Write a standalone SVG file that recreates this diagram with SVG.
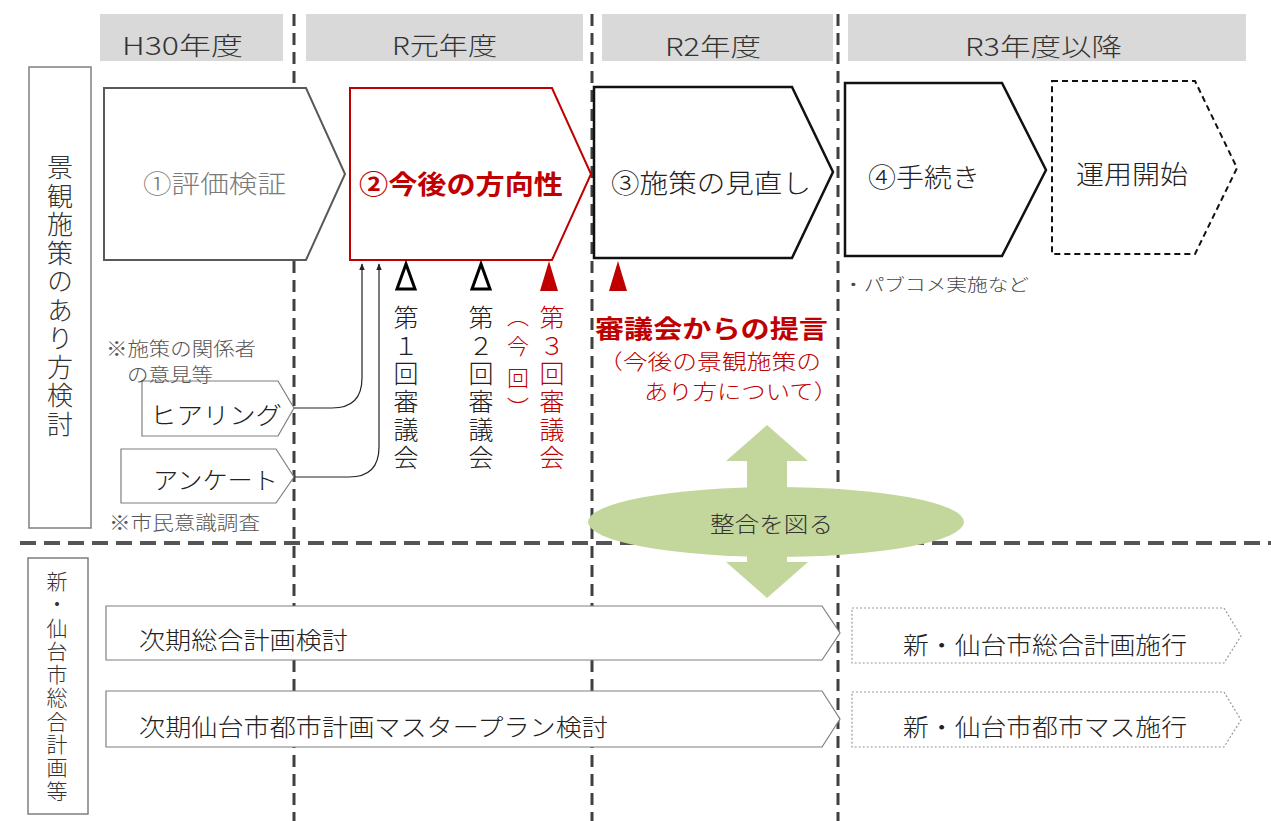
<svg xmlns="http://www.w3.org/2000/svg" width="1271" height="821" viewBox="0 0 1271 821">
<defs>
<style>
text{font-family:"Noto Sans CJK JP","Noto Sans",sans-serif;dominant-baseline:central;font-weight:300}
.hdr{fill:#d9d9d9}
.ht{font-size:25px;fill:#333}
.vl{stroke:#404040;stroke-width:3;stroke-dasharray:12 7;fill:none}
.hl{stroke:#555;stroke-width:4;stroke-dasharray:16 8;fill:none}
.lbl{fill:#fff;stroke:#7f7f7f;stroke-width:1.5}
.vt{writing-mode:vertical-rl;text-anchor:middle}
.sub{fill:#fff;stroke:#7f7f7f;stroke-width:1.2}
.dot{fill:#fff;stroke:#999;stroke-width:1.2;stroke-dasharray:2 2}
.red{fill:#c00000}
.note{font-size:19px;fill:#555}
.green{fill:#c3d69b}
</style>
<marker id="ah" viewBox="0 0 10 10" refX="9" refY="5" markerWidth="6" markerHeight="6" orient="auto"><path d="M0,1 L10,5 L0,9 z" fill="#222"/></marker>
</defs>
<rect width="1271" height="821" fill="#fff"/>

<g id="grid">
<line class="vl" x1="294" y1="14" x2="294" y2="821"/>
<line class="vl" x1="592" y1="14" x2="592" y2="821"/>
<line class="vl" x1="838" y1="14" x2="838" y2="821"/>
<line class="hl" x1="20" y1="543" x2="1271" y2="543"/>
</g>

<g id="headers">
<rect class="hdr" x="100" y="14" width="183" height="47"/>
<text class="ht" x="122" y="44" textLength="121" lengthAdjust="spacingAndGlyphs">H30年度</text>
<rect class="hdr" x="306" y="14" width="277" height="47"/>
<text class="ht" x="392" y="44" textLength="105" lengthAdjust="spacingAndGlyphs">R元年度</text>
<rect class="hdr" x="602" y="14" width="231" height="47"/>
<text class="ht" x="665" y="45" textLength="96" lengthAdjust="spacingAndGlyphs">R2年度</text>
<rect class="hdr" x="848" y="14" width="398" height="47"/>
<text class="ht" x="965" y="45" textLength="157" lengthAdjust="spacingAndGlyphs">R3年度以降</text>
</g>

<g id="label-top">
<rect class="lbl" x="29" y="67" width="62" height="461"/>
<text class="vt" x="60" y="297" style="font-size:26px;letter-spacing:2.5px;fill:#333">景観施策のあり方検討</text>
</g>
<g id="label-bottom">
<rect class="lbl" x="28" y="558" width="60" height="256"/>
<text class="vt" x="57" y="687" style="font-size:21px;letter-spacing:2.3px;fill:#333">新・仙台市総合計画等</text>
</g>

<g id="step1">
<polygon points="104,88 306,88 345,174 306,260 104,260" fill="#fff" stroke="#595959" stroke-width="2"/>
<text x="143" y="182" style="font-size:25px;fill:#7a7a7a" textLength="143" lengthAdjust="spacingAndGlyphs">①評価検証</text>
</g>
<g id="step2">
<polygon points="350,88 552,88 591,174 552,260 350,260" fill="#fff" stroke="#c00000" stroke-width="2"/>
<text class="red" x="359" y="182" style="font-size:26px;font-weight:bold" textLength="204" lengthAdjust="spacingAndGlyphs">②今後の方向性</text>
</g>
<g id="step3">
<polygon points="594,87 792,87 833,172 792,258 594,258" fill="#fff" stroke="#111" stroke-width="2.5"/>
<text x="611" y="181" style="font-size:26px;fill:#222" textLength="200" lengthAdjust="spacingAndGlyphs">③施策の見直し</text>
</g>
<g id="step4">
<polygon points="845,83 1002,83 1046,170 1002,256 845,256" fill="#fff" stroke="#111" stroke-width="2.5"/>
<text x="868" y="175" style="font-size:26px;fill:#222" textLength="112" lengthAdjust="spacingAndGlyphs">④手続き</text>
<text x="843" y="283" style="font-size:17px;fill:#444" textLength="186" lengthAdjust="spacingAndGlyphs">・パブコメ実施など</text>
</g>
<g id="step5">
<polygon points="1052,81 1195,81 1237,168 1195,254 1052,254" fill="#fff" stroke="#111" stroke-width="2" stroke-dasharray="6 4"/>
<text x="1076" y="172" style="font-size:26px;fill:#222" textLength="112" lengthAdjust="spacingAndGlyphs">運用開始</text>
</g>

<g id="hearing">
<polygon class="sub" points="142,381 278,381 294,408 278,436 142,436"/>
<text x="150" y="413" style="font-size:24px;fill:#222" textLength="132" lengthAdjust="spacingAndGlyphs">ヒアリング</text>
</g>
<g id="survey">
<polygon class="sub" points="121,449 276,449 294,477 276,503 121,503"/>
<text x="153" y="478" style="font-size:24px;fill:#222" textLength="125" lengthAdjust="spacingAndGlyphs">アンケート</text>
</g>
<g id="notes">
<text class="note" x="106" y="347" textLength="150" lengthAdjust="spacingAndGlyphs">※施策の関係者</text>
<text class="note" x="127" y="373" textLength="86" lengthAdjust="spacingAndGlyphs">の意見等</text>
<text class="note" x="109" y="521" textLength="151" lengthAdjust="spacingAndGlyphs">※市民意識調査</text>
</g>

<g id="connectors" fill="none" stroke="#222" stroke-width="1.2">
<path d="M294,408 H332 Q362,408 362,378 V264" marker-end="url(#ah)"/>
<path d="M294,477 H349 Q379,477 379,447 V264" marker-end="url(#ah)"/>
</g>

<g id="meetings">
<polygon points="406,264 397,289 415,289" fill="#fff" stroke="#000" stroke-width="3"/>
<polygon points="481,264 472,289 490,289" fill="#fff" stroke="#000" stroke-width="3"/>
<polygon points="549,261 540,291 558,291" fill="#c00000"/>
<polygon points="618,261 609,291 627,291" fill="#c00000"/>
<text class="vt" x="406" y="389" style="font-size:25px;letter-spacing:3px;fill:#222">第１回審議会</text>
<text class="vt" x="481" y="389" style="font-size:25px;letter-spacing:3px;fill:#222">第２回審議会</text>
<text class="red" x="518" y="314" style="font-size:22px;text-anchor:middle">︵</text>
<text class="red" x="518" y="344" style="font-size:22px;text-anchor:middle">今</text>
<text class="red" x="518" y="376" style="font-size:22px;text-anchor:middle">回</text>
<text class="red" x="518" y="406" style="font-size:22px;text-anchor:middle">︶</text>
<text class="vt red" x="552" y="389" style="font-size:25px;letter-spacing:3px">第３回審議会</text>
</g>

<g id="proposal">
<text class="red" x="595" y="327" style="font-size:25px;font-weight:bold" textLength="233" lengthAdjust="spacingAndGlyphs">審議会からの提言</text>
<text class="red" x="598" y="360" style="font-size:21px" textLength="223" lengthAdjust="spacingAndGlyphs">（今後の景観施策の</text>
<text class="red" x="644" y="390" style="font-size:21px" textLength="194" lengthAdjust="spacingAndGlyphs">あり方について）</text>
</g>

<g id="alignment">
<polygon class="green" points="767,425 808,461 787,461 787,562 808,562 767,598 726,562 747,562 747,461 726,461"/>
<ellipse class="green" cx="776" cy="522" rx="188" ry="35"/>
<text x="710" y="522" style="font-size:22px;fill:#333" textLength="123" lengthAdjust="spacingAndGlyphs">整合を図る</text>
</g>

<g id="plan1">
<polygon class="sub" points="106,606 822,606 840,633 822,660 106,660"/>
<text x="139" y="638" style="font-size:24px;fill:#222" textLength="209" lengthAdjust="spacingAndGlyphs">次期総合計画検討</text>
</g>
<g id="plan2">
<polygon class="sub" points="106,691 822,691 840,719 822,747 106,747"/>
<text x="139" y="725" style="font-size:24px;fill:#222" textLength="469" lengthAdjust="spacingAndGlyphs">次期仙台市都市計画マスタープラン検討</text>
</g>
<g id="plan1-next">
<polygon class="dot" points="852,608 1224,608 1241,636 1224,663 852,663"/>
<text x="903" y="643" style="font-size:24px;fill:#222" textLength="284" lengthAdjust="spacingAndGlyphs">新・仙台市総合計画施行</text>
</g>
<g id="plan2-next">
<polygon class="dot" points="852,692 1224,692 1241,720 1224,747 852,747"/>
<text x="903" y="725" style="font-size:24px;fill:#222" textLength="284" lengthAdjust="spacingAndGlyphs">新・仙台市都市マス施行</text>
</g>
</svg>
